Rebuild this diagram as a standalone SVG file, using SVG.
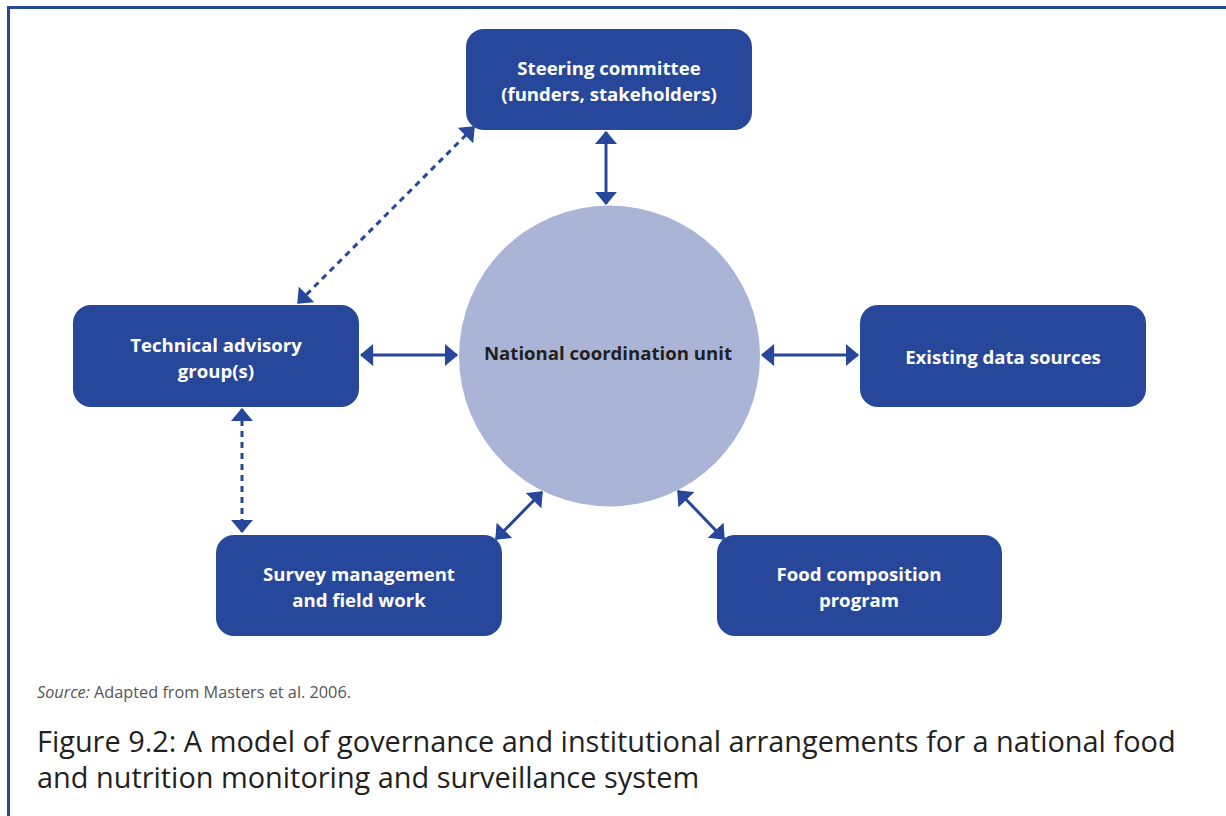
<svg xmlns="http://www.w3.org/2000/svg" width="1226" height="816" viewBox="0 0 1226 816">
<style>
.box{fill:#27489a}
.lbl{font-family:"Open Sans","Liberation Sans",sans-serif;font-weight:700;font-size:18.6px;fill:#ffffff;text-anchor:middle}
.con{stroke:#27489a;stroke-width:3;fill:none;marker-start:url(#ah);marker-end:url(#ah)}
.dash{stroke-dasharray:6 5}
</style>
<defs>
<marker id="ah" markerUnits="userSpaceOnUse" markerWidth="14" markerHeight="22" viewBox="0 0 12 20" refX="11" refY="10" orient="auto-start-reverse">
<path d="M0 0 L12 10 L0 20 Z" fill="#27489a"/>
</marker>
</defs>
<rect width="1226" height="816" fill="#ffffff"/>
<path d="M8.5 816 V7.5 H1226" fill="none" stroke="#27489a" stroke-width="3"/>
<g id="connectors">
<path class="con" d="M606 132 V204"/>
<path class="con" d="M361 355 H457"/>
<path class="con" d="M762 355 H858"/>
<path class="con" d="M496 539 L542 492"/>
<path class="con" d="M678 491 L724 539"/>
<path class="con dash" d="M474 127 L298 303"/>
<path class="con dash" d="M242 409 V532"/>
</g>
<g id="national-coordination-unit">
<circle cx="609.5" cy="356" r="150.5" fill="#aab4d7"/>
<text x="608" y="360" class="lbl" style="fill:#231f20">National coordination unit</text>
</g>
<g id="steering-committee">
<rect class="box" x="466" y="29" width="286" height="101" rx="18"/>
<text class="lbl" x="609" y="75">Steering committee</text>
<text class="lbl" x="609" y="101">(funders, stakeholders)</text>
</g>
<g id="technical-advisory">
<rect class="box" x="73" y="305" width="286" height="102" rx="18"/>
<text class="lbl" x="216" y="352">Technical advisory</text>
<text class="lbl" x="216" y="378">group(s)</text>
</g>
<g id="existing-data-sources">
<rect class="box" x="860" y="305" width="286" height="102" rx="18"/>
<text class="lbl" x="1003" y="364">Existing data sources</text>
</g>
<g id="survey-management">
<rect class="box" x="216" y="535" width="286" height="101" rx="18"/>
<text class="lbl" x="359" y="581">Survey management</text>
<text class="lbl" x="359" y="607">and field work</text>
</g>
<g id="food-composition">
<rect class="box" x="717" y="535" width="285" height="101" rx="18"/>
<text class="lbl" x="859" y="581">Food composition</text>
<text class="lbl" x="859" y="607">program</text>
</g>
<text x="37" y="698" font-family="'Open Sans','Liberation Sans',sans-serif" font-size="16.3" fill="#555555"><tspan font-style="italic">Source:</tspan> Adapted from Masters et al. 2006.</text>
<text font-family="'Open Sans','Liberation Sans',sans-serif" font-size="28.9" fill="#231f20">
<tspan x="37" y="752">Figure 9.2: A model of governance and institutional arrangements for a national food</tspan>
<tspan x="37" y="788">and nutrition monitoring and surveillance system</tspan>
</text>
</svg>
